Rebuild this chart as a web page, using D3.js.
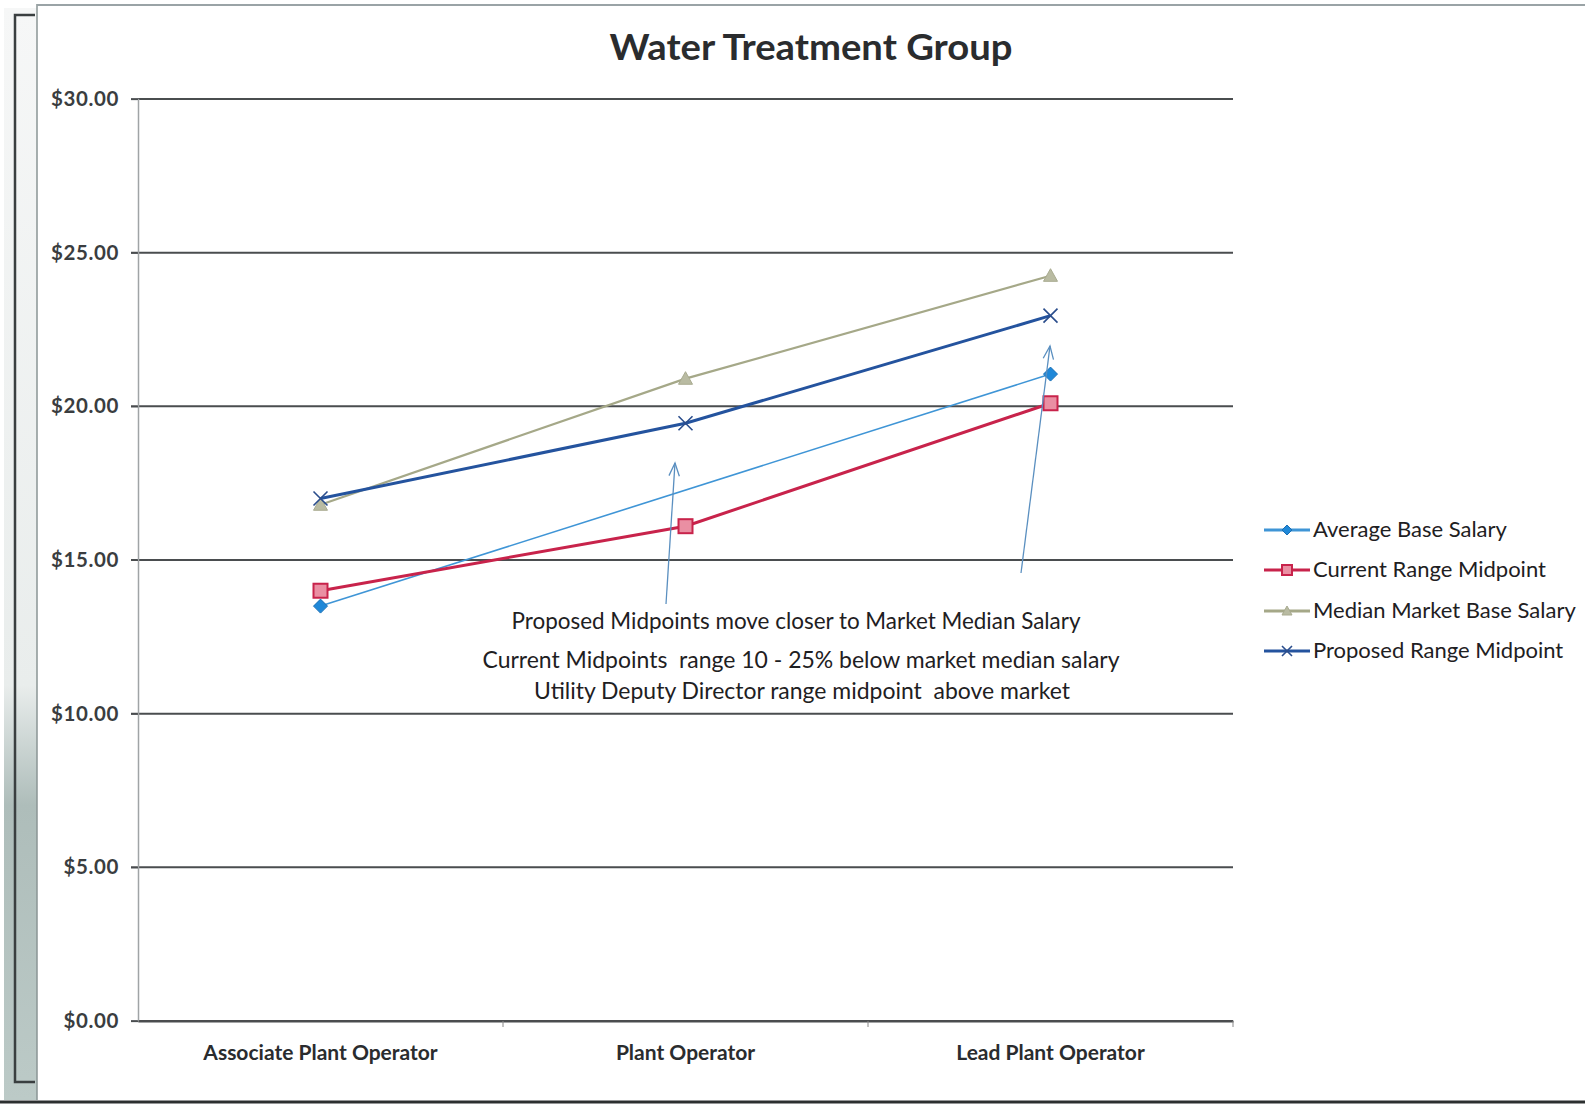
<!DOCTYPE html>
<html>
<head>
<meta charset="utf-8">
<script src="https://cdn.jsdelivr.net/npm/d3@7"></script>
<style>
  html, body { margin: 0; padding: 0; background: #fff; }
  svg { display: block; }
  text { font-family: Lato, "Open Sans", sans-serif; }
</style>
</head>
<body>
<svg id="chart" width="1585" height="1105"></svg>
<script>
// Job titles along the x axis
const categories = ["Associate Plant Operator", "Plant Operator", "Lead Plant Operator"];

// Hourly rates per job title (null = no data)
const averageBaseSalary   = [13.5, null, 21.05];
const currentMidpoint     = [14.0, 16.1, 20.1];
const medianMarketSalary  = [16.8, 20.9, 24.25];
const proposedMidpoint    = [17.0, 19.45, 22.95];

const yTicks = [0, 5, 10, 15, 20, 25, 30];

const seriesNames = ["Average Base Salary", "Current Range Midpoint", "Median Market Base Salary", "Proposed Range Midpoint"];

const notes = [
  "Proposed Midpoints move closer to Market Median Salary",
  "Current Midpoints  range 10 - 25% below market median salary",
  "Utility Deputy Director range midpoint  above market"
];

const svg = d3.select("#chart");
const W = 1585, H = 1105;
const plot = { left: 138, right: 1233, top: 99, bottom: 1021 };

// page frame
const frame = svg.append("g");
const grad = svg.append("defs").append("linearGradient")
  .attr("id", "edge").attr("x1", 0).attr("x2", 0).attr("y1", 0).attr("y2", 1);
grad.append("stop").attr("offset", "0").attr("stop-color", "#f6f7f7");
grad.append("stop").attr("offset", "0.62").attr("stop-color", "#e9edec");
grad.append("stop").attr("offset", "0.73").attr("stop-color", "#aebdba");
grad.append("stop").attr("offset", "1").attr("stop-color", "#bccac7");
frame.append("rect").attr("x", 4).attr("y", 8).attr("width", 33).attr("height", 1092).attr("fill", "url(#edge)");
frame.append("path").attr("d", "M35,15 L15,15 L15,1082 L35,1082")
  .attr("fill", "none").attr("stroke", "#3a3f40").attr("stroke-width", 2.5);
frame.append("line").attr("x1", 37).attr("x2", 37).attr("y1", 4).attr("y2", 1100)
  .attr("stroke", "#8a9494").attr("stroke-width", 1.5);
frame.append("line").attr("x1", 37).attr("x2", W).attr("y1", 5).attr("y2", 5)
  .attr("stroke", "#9aa3a6").attr("stroke-width", 2);
frame.append("line").attr("x1", 0).attr("x2", W).attr("y1", 1102).attr("y2", 1102)
  .attr("stroke", "#2c2f30").attr("stroke-width", 3);

const x = d3.scaleBand().domain(categories).range([plot.left, plot.right]);
const y = d3.scaleLinear().domain([0, 30]).range([plot.bottom, plot.top]);

// horizontal gridlines
svg.append("g").selectAll("line").data(yTicks).join("line")
  .attr("x1", plot.left - 7).attr("x2", plot.right)
  .attr("y1", d => y(d)).attr("y2", d => y(d))
  .attr("stroke", "#4a4d4f").attr("stroke-width", 2);

// y axis
const yAxis = svg.append("g").attr("transform", `translate(${plot.left},0)`)
  .call(d3.axisLeft(y).tickValues(yTicks).tickSize(7).tickPadding(12).tickFormat(d => "$" + d.toFixed(2)));
yAxis.select(".domain").attr("stroke", "#a0a4a6").attr("stroke-width", 1.5);
yAxis.selectAll(".tick line").attr("stroke", "#4a4d4f");
yAxis.selectAll("text").attr("font-size", 20.5).attr("font-weight", 700).attr("fill", "#3a3d40")
  .attr("letter-spacing", 0.6);

// x axis
const xAxis = svg.append("g").attr("transform", `translate(0,${plot.bottom})`)
  .call(d3.axisBottom(x).tickSize(0).tickPadding(24));
xAxis.select(".domain").attr("stroke", "#4a4d4f").attr("stroke-width", 2);
xAxis.selectAll("text").attr("font-size", 21).attr("font-weight", 700).attr("fill", "#2a2c2e");
svg.append("g").selectAll("line").data(categories).join("line")
  .attr("x1", d => x(d) + x.bandwidth()).attr("x2", d => x(d) + x.bandwidth())
  .attr("y1", plot.bottom).attr("y2", plot.bottom + 6)
  .attr("stroke", "#888").attr("stroke-width", 1);

// title
svg.append("text").attr("x", 811).attr("y", 60).attr("text-anchor", "middle")
  .attr("font-size", 36).attr("font-weight", 700).attr("fill", "#2a2c2e")
  .attr("textLength", 403).attr("lengthAdjust", "spacingAndGlyphs")
  .text("Water Treatment Group");

const cx = c => x(c) + x.bandwidth() / 2;
const series = [
  { name: seriesNames[0], values: averageBaseSalary,  color: "#3f95d6", width: 1.6, marker: "diamond", mcolor: "#1f88d8" },
  { name: seriesNames[1], values: currentMidpoint,    color: "#c8234b", width: 3,   marker: "square",  mcolor: "#c8234b" },
  { name: seriesNames[2], values: medianMarketSalary, color: "#a5a888", width: 2.2, marker: "triangle", mcolor: "#b9bba2" },
  { name: seriesNames[3], values: proposedMidpoint,   color: "#24539e", width: 3,   marker: "x",       mcolor: "#2a4d8c" }
];

const line = d3.line().x(d => cx(d.c)).y(d => y(d.v));

function drawMarker(g, type, color, px, py, s) {
  if (type === "diamond") {
    g.append("path").attr("d", `M${px},${py - s} L${px + s},${py} L${px},${py + s} L${px - s},${py} Z`)
      .attr("fill", color).attr("stroke", "#1a6fb5").attr("stroke-width", 1);
  } else if (type === "square") {
    g.append("rect").attr("x", px - s).attr("y", py - s).attr("width", 2 * s).attr("height", 2 * s)
      .attr("fill", "#ea8fa3").attr("stroke", color).attr("stroke-width", 2);
  } else if (type === "triangle") {
    g.append("path").attr("d", `M${px},${py - s} L${px + s},${py + s * 0.8} L${px - s},${py + s * 0.8} Z`)
      .attr("fill", color).attr("stroke", "#a9ab90").attr("stroke-width", 1);
  } else if (type === "x") {
    g.append("path").attr("d", `M${px - s},${py - s} L${px + s},${py + s} M${px - s},${py + s} L${px + s},${py - s}`)
      .attr("stroke", color).attr("stroke-width", 1.6).attr("fill", "none");
  }
}

// draw order: average (below), median, proposed, current on top
const order = [0, 2, 3, 1];
order.forEach(i => {
  const s = series[i];
  const pts = categories.map((c, k) => ({ c, v: s.values[k] })).filter(d => d.v !== null);
  const g = svg.append("g");
  g.append("path").datum(pts).attr("d", line)
    .attr("fill", "none").attr("stroke", s.color).attr("stroke-width", s.width);
  pts.forEach(d => drawMarker(g, s.marker, s.mcolor, cx(d.c), y(d.v), 7));
});

// annotation arrows
const arrowG = svg.append("g").attr("stroke", "#5a8fc0").attr("stroke-width", 1.3).attr("fill", "none");
function arrow(x1, y1, x2, y2) {
  arrowG.append("line").attr("x1", x1).attr("y1", y1).attr("x2", x2).attr("y2", y2);
  const a = Math.atan2(y2 - y1, x2 - x1);
  const L = 14, spread = 0.38;
  arrowG.append("path").attr("d",
    `M${x2 - L * Math.cos(a - spread)},${y2 - L * Math.sin(a - spread)} L${x2},${y2} L${x2 - L * Math.cos(a + spread)},${y2 - L * Math.sin(a + spread)}`);
}
arrow(666, 604, 675, 463);
arrow(1021, 573, 1050, 346);

// notes under the lines
const noteY = [629, 668, 699];
const noteX = [796, 801, 802];
const noteW = [569, 637, 536];
svg.append("g").selectAll("text").data(notes).join("text")
  .attr("x", (d, i) => noteX[i]).attr("y", (d, i) => noteY[i]).attr("text-anchor", "middle")
  .attr("font-size", 22.5).attr("fill", "#1e2022").style("white-space", "pre")
  .attr("textLength", (d, i) => noteW[i]).attr("lengthAdjust", "spacingAndGlyphs")
  .text(d => d);

// legend
const legend = svg.append("g");
const ly = [530, 570, 611, 651];
series.forEach((s, i) => {
  const g = legend.append("g");
  g.append("line").attr("x1", 1264).attr("x2", 1310).attr("y1", ly[i]).attr("y2", ly[i])
    .attr("stroke", s.color).attr("stroke-width", 3);
  drawMarker(g, s.marker, s.mcolor, 1287, ly[i], 5);
  g.append("text").attr("x", 1313).attr("y", ly[i] + 7).attr("font-size", 22)
    .attr("fill", "#1e2022").text(s.name);
});
</script>
</body>
</html>
